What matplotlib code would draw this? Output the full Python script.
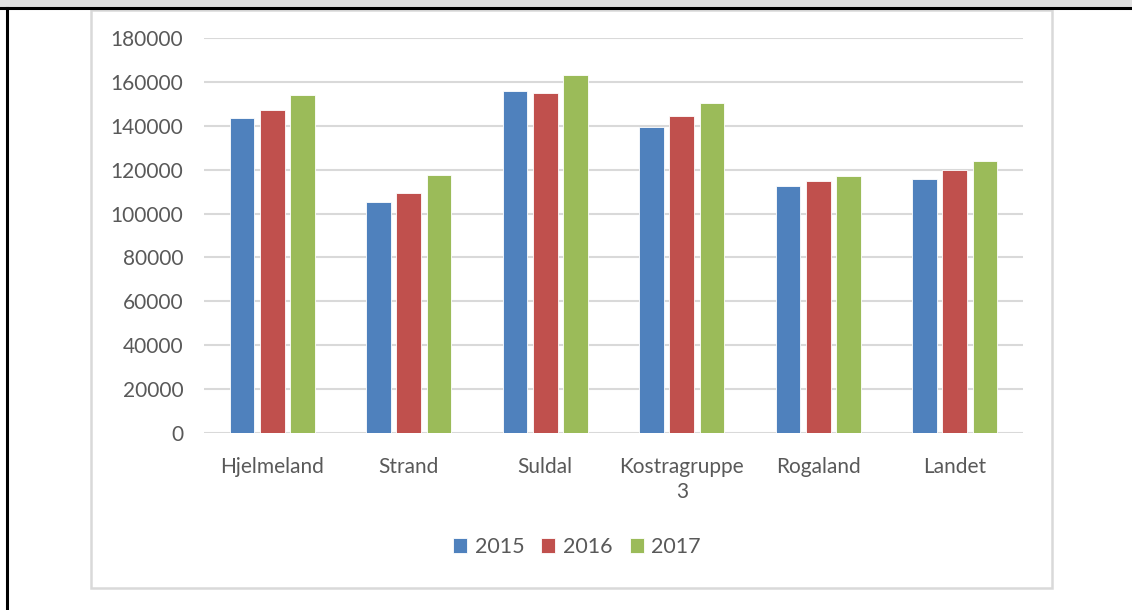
import numpy as np
import matplotlib.pyplot as plt
from matplotlib.patches import Rectangle
from matplotlib.lines import Line2D

plt.rcParams['font.family'] = ['Lato', 'DejaVu Sans']

categories = ["Hjelmeland", "Strand", "Suldal", "Kostragruppe\n3", "Rogaland", "Landet"]
years = ["2015", "2016", "2017"]
v2015 = [143500, 105400, 155700, 139300, 112400, 115900]
v2016 = [147000, 109500, 155100, 144600, 114700, 120000]
v2017 = [154000, 117600, 163300, 150400, 117100, 124100]
colors = ["#4F81BD", "#C0504D", "#9BBB59"]

W, H = 1132, 610
fig = plt.figure(figsize=(W / 100, H / 100), dpi=100)

# page decorations: grey strip, black rules, chart box
fig.add_artist(Rectangle((0, 1 - 7 / H), 1, 7 / H, transform=fig.transFigure,
                         facecolor="#e0e0e0", edgecolor="none"))
fig.add_artist(Line2D([0, 1], [1 - 8 / H, 1 - 8 / H], transform=fig.transFigure,
                      color="black", lw=2.2))
fig.add_artist(Line2D([6.5 / W, 6.5 / W], [0, 1 - 8 / H], transform=fig.transFigure,
                      color="black", lw=2.2))
fig.add_artist(Rectangle((91 / W, 1 - 588 / H), (1052 - 91) / W, (588 - 10) / H,
                         transform=fig.transFigure, facecolor="none",
                         edgecolor="#d9d9d9", lw=1.8))

ax = fig.add_axes([204 / W, 1 - 433 / H, (1023 - 204) / W, (433 - 38) / H])
x = np.arange(len(categories))
step = 0.223
bw = 0.18
for i, (vals, yr) in enumerate(zip([v2015, v2016, v2017], years)):
    ax.bar(x + (i - 1) * step, vals, width=bw, color=colors[i], label=yr,
           edgecolor="white", linewidth=0.6, zorder=3)

ax.set_xlim(-0.5, len(categories) - 0.5)
ax.set_ylim(0, 180000)
ax.set_yticks(np.arange(0, 180001, 20000))
ax.set_xticks(x)
ax.set_xticklabels(categories, linespacing=1.35, fontsize=15.5)
ax.grid(axis="y", color="#d9d9d9", lw=1.5, zorder=0)
ax.tick_params(axis="both", length=0, labelsize=15, labelcolor="#595959")
ax.tick_params(axis="y", pad=15)
ax.tick_params(axis="x", pad=17)
for s in ax.spines.values():
    s.set_visible(False)

leg = fig.legend(loc="center", bbox_to_anchor=(577 / W, 1 - 547 / H), ncol=3,
                 frameon=False, fontsize=15.5, handlelength=0.65, handleheight=0.65,
                 handletextpad=0.35, columnspacing=0.8)
for t in leg.get_texts():
    t.set_color("#595959")

fig.savefig("out.png", dpi=100)
